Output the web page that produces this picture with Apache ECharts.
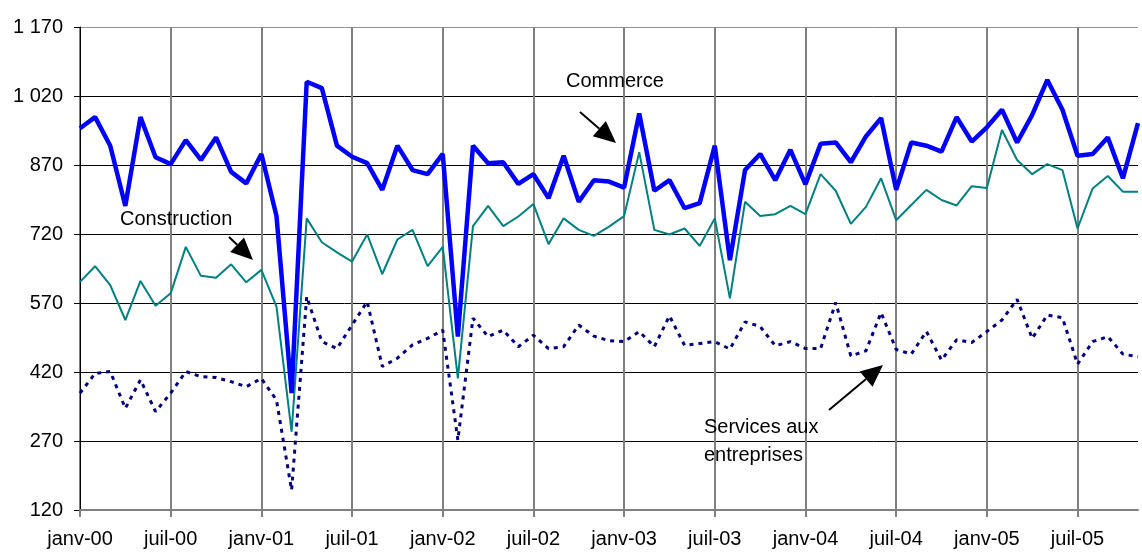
<!DOCTYPE html>
<html>
<head>
<meta charset="utf-8">
<title>Commerce, Construction, Services aux entreprises</title>
<script src="https://cdn.jsdelivr.net/npm/echarts@6/dist/echarts.min.js"></script>
<style>
  html, body { margin: 0; padding: 0; background: #fff; }
  #chart { width: 1142px; height: 552px; }
</style>
</head>
<body>
<div id="chart"></div>
<script>
// mois de janv-00 à nov-05
const moisNoms = ['janv', 'févr', 'mars', 'avr', 'mai', 'juin', 'juil', 'août', 'sept', 'oct', 'nov', 'déc'];
const annees = ['00', '01', '02', '03', '04', '05'];
const mois = [];
annees.forEach(a => moisNoms.forEach(m => mois.push(m + '-' + a)));
mois.length = 71;

const commerce = [
  950, 974, 912, 781, 974, 887, 872, 924, 881, 930, 855, 830,
  894, 759, 374, 1051, 1037, 912, 888, 874, 816, 912, 859, 850,
  894, 497, 912, 874, 876, 829, 850, 798, 890, 790, 837, 834,
  821, 982, 814, 837, 776, 787, 912, 663, 859, 894, 837, 903,
  828, 916, 919, 876, 932, 972, 816, 919, 912, 899, 974, 921,
  952, 990, 919, 979, 1055, 990, 890, 894, 930, 841, 961
];

const construction = [
  616, 650, 609, 533, 618, 564, 591, 692, 629, 625, 654, 615,
  642, 562, 290, 754, 702, 680, 660, 719, 633, 708, 729, 650,
  692, 406, 737, 781, 737, 758, 785, 698, 754, 729, 716, 736,
  759, 898, 729, 719, 732, 694, 754, 580, 790, 759, 763, 781,
  763, 850, 814, 742, 779, 841, 750, 783, 816, 794, 782, 824,
  820, 946, 881, 850, 872, 859, 732, 819, 846, 812, 812
];

const services = [
  374, 417, 421, 341, 403, 334, 374, 421, 410, 408, 399, 388,
  406, 359, 163, 584, 486, 471, 522, 573, 432, 450, 479, 493,
  511, 272, 537, 497, 511, 475, 500, 471, 475, 522, 498, 488,
  486, 508, 475, 542, 478, 482, 486, 470, 529, 519, 477, 486,
  471, 471, 571, 455, 466, 549, 469, 459, 508, 446, 490, 484,
  508, 533, 578, 493, 544, 538, 437, 486, 497, 459, 453
];

const yTicks = [120, 270, 420, 570, 720, 870, 1020, 1170];

const police = 'Liberation Sans, Arial, sans-serif';
const chart = echarts.init(document.getElementById('chart'));

function fleche(x1, y1, x2, y2) {
  // trait + tête triangulaire pleine
  const ang = Math.atan2(y2 - y1, x2 - x1);
  const L = 22, W = 10;
  const bx = x2 - L * Math.cos(ang), by = y2 - L * Math.sin(ang);
  const px = -Math.sin(ang) * W, py = Math.cos(ang) * W;
  return [
    { type: 'line', shape: { x1: x1, y1: y1, x2: bx, y2: by }, style: { stroke: '#000', lineWidth: 2 }, z: 100 },
    { type: 'polygon', shape: { points: [[x2, y2], [bx + px, by + py], [bx - px, by - py]] }, style: { fill: '#000' }, z: 100 }
  ];
}

const texteStyle = { fill: '#000', font: '20px ' + police };

const option = {
  animation: false,
  backgroundColor: '#fff',
  grid: { left: 80, right: 4, top: 27, bottom: 42 },
  xAxis: {
    type: 'category',
    data: mois,
    boundaryGap: false,
    axisLine: { lineStyle: { color: '#808080', width: 2 } },
    axisTick: { interval: 5, length: 7, lineStyle: { color: '#808080', width: 2 } },
    axisLabel: { interval: 5, margin: 19, color: '#000', fontSize: 20, fontFamily: police },
    splitLine: { show: true, interval: 5, lineStyle: { color: '#808080', width: 2 } }
  },
  yAxis: {
    type: 'value',
    min: yTicks[0],
    max: yTicks[yTicks.length - 1],
    interval: 150,
    axisLine: { show: true, lineStyle: { color: '#000', width: 1 } },
    axisTick: { show: true, length: 6, lineStyle: { color: '#000' } },
    axisLabel: {
      margin: 17, color: '#000', fontSize: 20, fontFamily: police,
      formatter: v => String(v).replace(/\B(?=(\d{3})+(?!\d))/g, ' ')
    },
    splitLine: {
      lineStyle: { color: ['#000', '#000', '#000', '#000', '#000', '#000', '#000', '#909090'], width: 1 }
    }
  },
  series: [
    {
      name: 'Services aux entreprises',
      type: 'line',
      data: services,
      symbol: 'none',
      lineStyle: { color: '#000080', width: 3, type: [4, 5] },
      z: 3
    },
    {
      name: 'Construction',
      type: 'line',
      data: construction,
      symbol: 'none',
      lineStyle: { color: '#008080', width: 2 },
      z: 4
    },
    {
      name: 'Commerce',
      type: 'line',
      data: commerce,
      symbol: 'none',
      lineStyle: { color: '#0000ff', width: 4.5 },
      z: 5
    }
  ],
  graphic: [
    { type: 'text', left: 566, top: 71, style: Object.assign({ text: 'Commerce' }, texteStyle), z: 100 },
    { type: 'text', left: 120, top: 209, style: Object.assign({ text: 'Construction' }, texteStyle), z: 100 },
    { type: 'text', left: 704, top: 413, style: Object.assign({ text: 'Services aux\nentreprises', lineHeight: 28 }, texteStyle), z: 100 }
  ].concat(fleche(580, 112, 616, 143), fleche(229, 237, 253, 260), fleche(829, 410, 883, 365))
};

chart.setOption(option);
</script>
</body>
</html>
